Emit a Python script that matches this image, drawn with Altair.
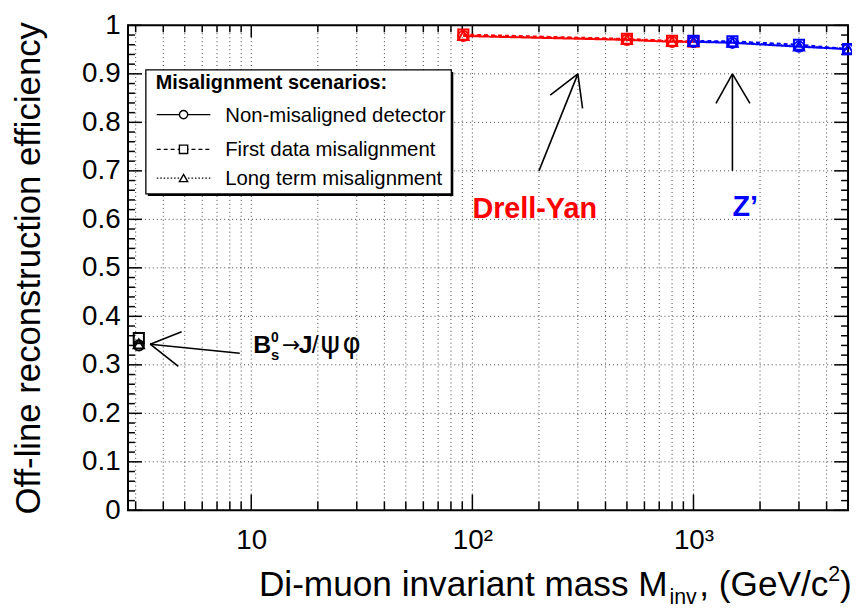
import altair as alt
import pandas as pd

# ---------------- data ----------------
scenarios = ["Non-misaligned detector", "First data misalignment", "Long term misalignment"]
samples = ["Drell-Yan", "Z'", "Bs"]

dy_mass = [91, 500, 800, 1000]
dy_nonmis = [0.978, 0.970, 0.966, 0.966]
dy_first = [0.981, 0.972, 0.968, 0.967]
dy_long = [0.979, 0.971, 0.967, 0.966]

zp_mass = [1000, 1500, 3000, 5000]
zp_nonmis = [0.966, 0.964, 0.956, 0.951]
zp_first = [0.968, 0.967, 0.960, 0.951]
zp_long = [0.967, 0.965, 0.957, 0.951]

bs_mass = [3.1]
bs_nonmis = [0.340]
bs_first = [0.355]
bs_long = [0.343]

# axis ticks
x_major = [10, 100, 1000]
x_minor = [3, 4, 5, 6, 7, 8, 9, 20, 30, 40, 50, 60, 70, 80, 90,
           200, 300, 400, 500, 600, 700, 800, 900, 2000, 3000, 4000]
y_major = [0.0, 0.1, 0.2, 0.3, 0.4, 0.5, 0.6, 0.7, 0.8, 0.9, 1.0]
y_minor = [round(0.02 * i, 2) for i in range(1, 50) if i % 5]

# annotation arrows (data coordinates)
arrow_x = [200, 300, 300, 1500, 1500, 1500, 8.87, 3.49, 3.49]
arrow_y = [0.70, 0.90, 0.90, 0.70, 0.90, 0.90, 0.324, 0.3425, 0.3425]
arrow_x2 = [300, 225, 315, 1500, 1264, 1800, 3.49, 4.84, 4.68]
arrow_y2 = [0.90, 0.856, 0.829, 0.90, 0.839, 0.839, 0.3425, 0.368, 0.297]

# annotation labels (data coordinates)
dy_label = ("Drell-Yan", 100, 0.603)
zp_label = ("Z\u2019", 1500, 0.606)
bs_label_pos = (10.2, 0.325)

# ---------------- build tables ----------------
rows = []
for sample, mass, series in [
    ("Drell-Yan", dy_mass, [dy_nonmis, dy_first, dy_long]),
    ("Z'", zp_mass, [zp_nonmis, zp_first, zp_long]),
    ("Bs", bs_mass, [bs_nonmis, bs_first, bs_long]),
]:
    for scen, vals in zip(scenarios, series):
        for m, v in zip(mass, vals):
            rows.append({"sample": sample, "scenario": scen, "mass": m, "eff": v})
df = pd.DataFrame(rows)

df_arrows = pd.DataFrame({"mass": arrow_x, "eff": arrow_y, "mass2": arrow_x2, "eff2": arrow_y2})
df_xmaj = pd.DataFrame({"mass": x_major})
df_xmin = pd.DataFrame({"mass": x_minor})
df_xall = pd.DataFrame({"mass": x_major + x_minor})
df_ymaj = pd.DataFrame({"eff": y_major})
df_ymin = pd.DataFrame({"eff": y_minor})
df_ygrid = pd.DataFrame({"eff": y_major[1:-1]})
one = pd.DataFrame({"k": [0]})

FONT = "Liberation Sans"
W, H = 726, 489

xscale = alt.Scale(type="log", domain=[2.77, 5000], nice=False)
yscale = alt.Scale(domain=[0, 1], nice=False, zero=False)

x_axis = alt.Axis(values=x_major, title="", ticks=False, domain=False, grid=False,
                  labelExpr="datum.value == 10 ? '10' : (datum.value == 100 ? '10\u00b2' : '10\u00b3')",
                  labelFontSize=28, labelPadding=17, labelFont=FONT, labelColor="black")
y_axis = alt.Axis(values=y_major, title="", ticks=False, domain=False, grid=False,
                  labelExpr="(datum.value == 0 || datum.value == 1) ? format(datum.value, 'd') : format(datum.value, '.1f')",
                  labelFontSize=28, labelPadding=8, labelFont=FONT, labelColor="black")

X = alt.X("mass:Q", scale=xscale, axis=x_axis)
Y = alt.Y("eff:Q", scale=yscale, axis=y_axis)

layers = []

# grid
gr = dict(color="#444", strokeWidth=1, strokeDash=[1, 3])
layers.append(alt.Chart(df_xall).mark_rule(**gr).encode(x=X))
layers.append(alt.Chart(df_ygrid).mark_rule(**gr).encode(y=Y))

# ticks (inside the frame, on all four sides)
tk = dict(color="black", strokeWidth=1.5)
layers.append(alt.Chart(df_xmaj).mark_rule(**tk).encode(x=X, y=alt.value(H), y2=alt.value(H - 16)))
layers.append(alt.Chart(df_xmin).mark_rule(**tk).encode(x=X, y=alt.value(H), y2=alt.value(H - 9)))
layers.append(alt.Chart(df_xmaj).mark_rule(**tk).encode(x=X, y=alt.value(0), y2=alt.value(12)))
layers.append(alt.Chart(df_xmin).mark_rule(**tk).encode(x=X, y=alt.value(0), y2=alt.value(7)))
layers.append(alt.Chart(df_ymaj).mark_rule(**tk).encode(y=Y, x=alt.value(0), x2=alt.value(14)))
layers.append(alt.Chart(df_ymin).mark_rule(**tk).encode(y=Y, x=alt.value(0), x2=alt.value(7)))
layers.append(alt.Chart(df_ymaj).mark_rule(**tk).encode(y=Y, x=alt.value(W), x2=alt.value(W - 14)))
layers.append(alt.Chart(df_ymin).mark_rule(**tk).encode(y=Y, x=alt.value(W), x2=alt.value(W - 7)))

color_enc = alt.Color("sample:N", scale=alt.Scale(domain=samples, range=["#ff0000", "#0000ff", "#000000"]))
dash_enc = alt.StrokeDash("scenario:N", scale=alt.Scale(domain=scenarios, range=[[1, 0], [4, 3], [1.5, 2.5]]))
shape_enc = alt.Shape("scenario:N", scale=alt.Scale(domain=scenarios, range=["circle", "square", "triangle-up"]))

layers.append(alt.Chart(df).mark_line(strokeWidth=2).encode(x=X, y=Y, color=color_enc, strokeDash=dash_enc))
layers.append(alt.Chart(df).mark_point(filled=False, strokeWidth=2, size=105, opacity=1).encode(
    x=X, y=Y, color=color_enc, shape=shape_enc))

# arrows
layers.append(alt.Chart(df_arrows).mark_rule(color="black", strokeWidth=1.6).encode(
    x=X, y=Y, x2="mass2:Q", y2="eff2:Q"))

# annotation texts
def dtext(label, mx, ey, size, weight, color, dx=0, dy=0, font=FONT):
    d = pd.DataFrame({"mass": [mx], "eff": [ey], "t": [label]})
    return alt.Chart(d).mark_text(font=font, fontSize=size, fontWeight=weight, color=color,
                                  align="left", baseline="alphabetic", dx=dx, dy=dy).encode(
        x=X, y=Y, text="t:N")

layers.append(dtext(dy_label[0], dy_label[1], dy_label[2], 29, "bold", "#ff0000"))
layers.append(dtext(zp_label[0], zp_label[1], zp_label[2], 29, "bold", "#0000ff"))
bx, by = bs_label_pos
layers.append(dtext("B", bx, by, 25, "bold", "black"))
layers.append(dtext("0", bx, by, 14, "bold", "black", dx=18, dy=-11))
layers.append(dtext("s", bx, by, 15, "bold", "black", dx=18, dy=7))
layers.append(dtext("\u2192", bx, by, 22, "normal", "black", dx=29, dy=-1, font="DejaVu Sans"))
layers.append(dtext("J", bx, by, 25, "bold", "black", dx=46))
layers.append(dtext("/", bx, by, 25, "normal", "black", dx=59))
layers.append(dtext("\u03c8", bx, by, 30, "normal", "black", dx=68, font="DejaVu Sans"))
layers.append(dtext("\u03c6", bx, by, 28, "normal", "black", dx=90, font="DejaVu Sans"))

# legend (pixel positions inside the plot)
def ptext(text, x, y, size, weight="normal", angle=0, align="left"):
    kw = dict(text=text, font=FONT, fontSize=size, fontWeight=weight, color="black",
              align=align, baseline="alphabetic")
    if angle:
        kw["angle"] = angle
    return alt.Chart(one).mark_text(**kw).encode(x=alt.value(x), y=alt.value(y))

layers.append(alt.Chart(one).mark_rect(fill="black").encode(
    x=alt.value(20), x2=alt.value(328), y=alt.value(47), y2=alt.value(172)))
layers.append(alt.Chart(one).mark_rect(fill="white", stroke="black", strokeWidth=1.3).encode(
    x=alt.value(18), x2=alt.value(326), y=alt.value(45), y2=alt.value(170)))
layers.append(ptext("Misalignment scenarios:", 28, 64, 20, "bold"))
leg_y = [90, 125, 154]
leg_dash = [[1, 0], [4, 3], [1.5, 2]]
leg_shape = ["circle", "square", "triangle-up"]
for name, ly, dsh, shp in zip(scenarios, leg_y, leg_dash, leg_shape):
    layers.append(alt.Chart(one).mark_rule(color="black", strokeWidth=1.3, strokeDash=dsh).encode(
        x=alt.value(29), x2=alt.value(83), y=alt.value(ly)))
    layers.append(alt.Chart(one).mark_point(shape=shp, filled=True, fill="white", stroke="black",
                                            strokeWidth=1.4, size=70, opacity=1).encode(
        x=alt.value(56), y=alt.value(ly)))
    layers.append(ptext(name, 98, ly + 7, 20.5))

# axis titles (pixel positions relative to the plot)
layers.append(ptext("Off-line reconstruction efficiency", -89, 245, 35, angle=270, align="center"))
TY = 575
layers.append(ptext("Di-muon invariant mass M", 132, TY, 35.5))
layers.append(ptext("inv", 546, TY + 8, 21.5))
layers.append(ptext(", (GeV/c", 576, TY, 35.5))
layers.append(ptext("2", 706, TY - 15, 21.5))
layers.append(ptext(")", 718, TY, 35.5))

chart = alt.layer(*layers).properties(
    width=W, height=H,
    padding={"left": 121, "top": 15, "right": 4, "bottom": 96},
    autosize=alt.AutoSizeParams(type="none"),
).configure_view(stroke="black", strokeWidth=2).configure_legend(disable=True)

chart.save("out.html", embed_options={"renderer": "svg", "actions": False})
